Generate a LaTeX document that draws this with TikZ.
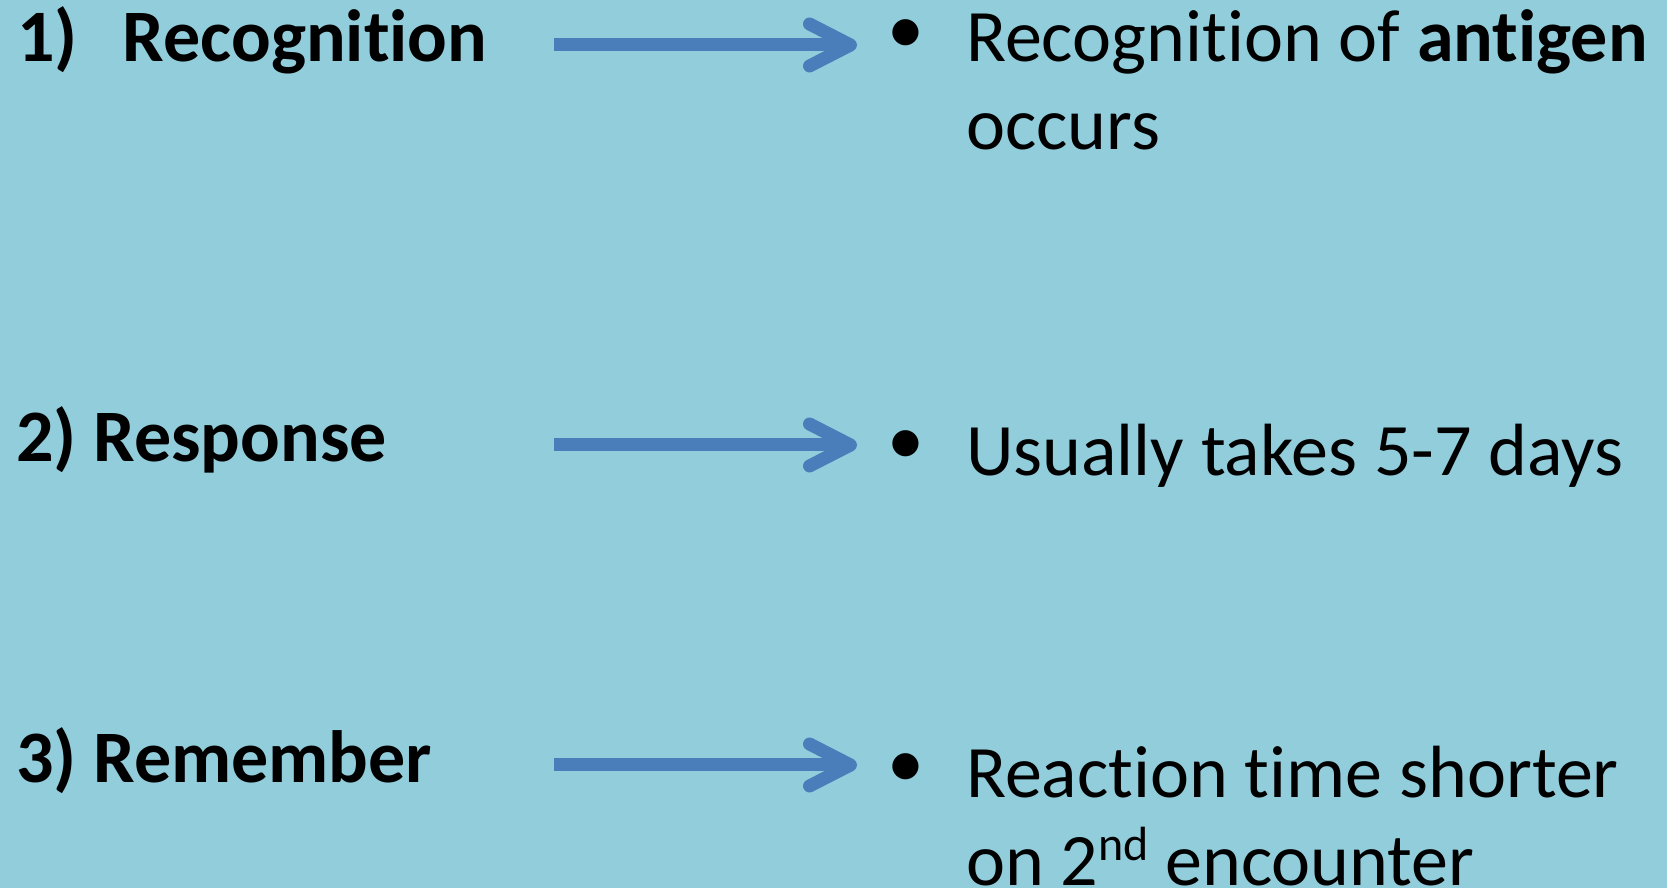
\documentclass[tikz,border=0pt]{standalone}
\usepackage{fontspec}
\setmainfont[Ligatures=NoCommon]{Carlito}
\usetikzlibrary{arrows.meta}
\definecolor{slidebg}{HTML}{92CDDC}
\definecolor{arrowblue}{HTML}{4A7EBB}

\begin{document}
\begin{tikzpicture}[
    x=1pt, y=1pt,
    stage/.style={anchor=base west, inner sep=0pt, font=\fontsize{74}{88}\selectfont\bfseries},
    point/.style={anchor=base west, inner sep=0pt, align=left, font=\fontsize{74}{88}\selectfont},
    bul/.style={anchor=center, inner sep=0pt, font=\fontsize{74}{88}\selectfont},
    link/.style={-{Straight Barb[length=41pt, width=42pt, round]}, line width=13pt, color=arrowblue},
]

\fill[slidebg] (0,0) rectangle (1667,888);
\useasboundingbox (0,0) rectangle (1667,888);

\node[stage] (recog) at (17,826) {1)\hspace{45pt}Recognition};
\node[stage] (resp) at (16,426) {2) Response};
\node[stage] (remem) at (16,105) {3) Remember};

\coordinate (recogS) at (554,843);
\coordinate (recogE) at (857,843);
\coordinate (respS) at (554,443);
\coordinate (respE) at (857,443);
\coordinate (rememS) at (554,123);
\coordinate (rememE) at (857,123);

\node[bul] (recogB) at (906,851) {\textbullet};
\node[bul] (respB) at (906,440) {\textbullet};
\node[bul] (rememB) at (906,117) {\textbullet};

\node[point] (recogT) at (966,738) {Recognition of \textbf{antigen}\\occurs};
\node[point] (respT) at (966,412) {Usually takes 5-7 days};
\node[point] (rememT) at (966,2) {Reaction time shorter\\on 2\raisebox{25pt}{\fontsize{48}{48}\selectfont nd} encounter};

\draw[link] (recogS) -- (recogE);
\draw[link] (respS) -- (respE);
\draw[link] (rememS) -- (rememE);

\end{tikzpicture}
\end{document}
